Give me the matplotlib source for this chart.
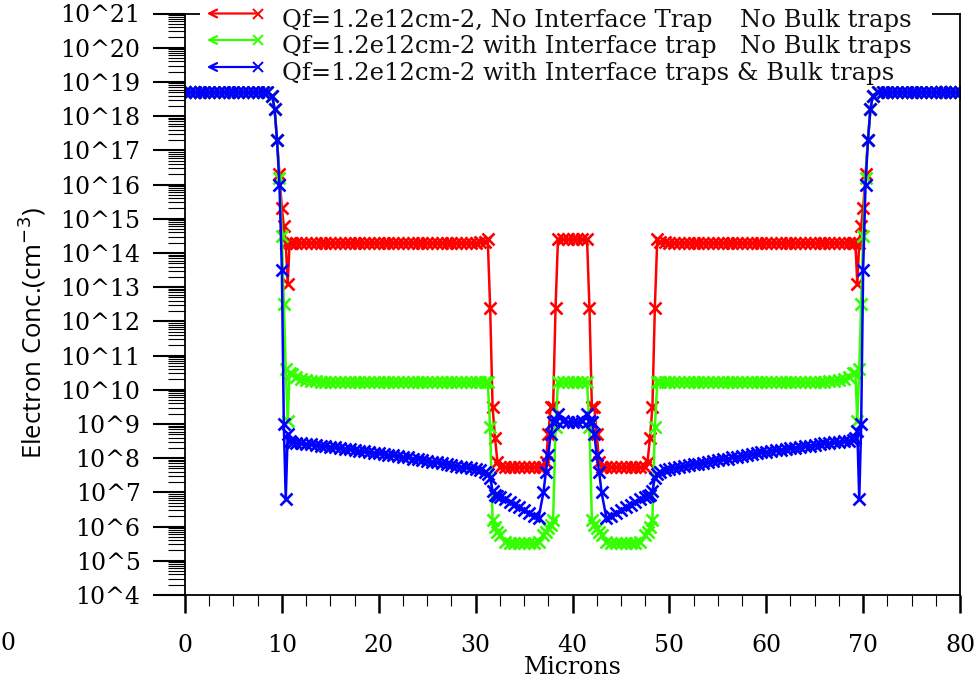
import numpy as np
import matplotlib
matplotlib.use("Agg")
import matplotlib.pyplot as plt
from matplotlib.ticker import LogLocator, MultipleLocator, FuncFormatter, NullFormatter
from matplotlib.lines import Line2D
from matplotlib.patches import FancyArrowPatch, Rectangle

# ---------------------------------------------------------------------------
# Electron concentration along the cut line (microns), log10(n / cm^-3)
# ---------------------------------------------------------------------------
x_left = [
    0, 0.5, 1, 1.5, 2, 2.5, 3, 3.5, 4, 4.5, 5, 5.5, 6, 6.5, 7, 7.5, 8, 8.5,
    9, 9.25, 9.5, 9.75, 10, 10.2, 10.4, 10.6, 10.8,
    11, 11.5, 12, 12.5, 13, 13.5, 14, 14.5, 15, 15.5,
    16, 16.5, 17, 17.5, 18, 18.5, 19, 19.5, 20, 20.5,
    21, 21.5, 22, 22.5, 23, 23.5, 24, 24.5, 25, 25.5,
    26, 26.5, 27, 27.5, 28, 28.5, 29, 29.5, 30, 30.5,
    31,
    31.25, 31.5, 31.75, 32, 32.25,
    32.5, 33, 33.5, 34, 34.5, 35, 35.5, 36, 36.5,
    37, 37.25, 37.5, 37.75, 38, 38.25, 38.5,
    39, 39.5, 40,
]
x_right = [
    40.5, 41,
    41.5, 41.75, 42, 42.25, 42.5, 42.75, 43,
    43.5, 44, 44.5, 45, 45.5, 46, 46.5, 47, 47.5,
    47.75, 48, 48.25, 48.5, 48.75,
    49, 49.5, 50, 50.5, 51, 51.5, 52, 52.5, 53, 53.5,
    54, 54.5, 55, 55.5, 56, 56.5, 57, 57.5, 58, 58.5,
    59, 59.5, 60, 60.5, 61, 61.5, 62, 62.5, 63, 63.5,
    64, 64.5, 65, 65.5, 66, 66.5, 67, 67.5, 68, 68.5,
    69,
    69.2, 69.4, 69.6, 69.8, 70, 70.25, 70.5, 70.75, 71,
    71.5, 72, 72.5, 73, 73.5, 74, 74.5, 75, 75.5, 76, 76.5, 77, 77.5, 78,
    78.5, 79, 79.5, 80,
]

# Qf = 1.2e12 cm-2, no interface trap, no bulk traps
log_n_red_left = [
    18.7, 18.7, 18.7, 18.7, 18.7, 18.7, 18.7, 18.7, 18.7, 18.7,
    18.7, 18.7, 18.7, 18.7, 18.7, 18.7, 18.7, 18.7,
    18.6, 18.2, 17.3, 16.3, 15.3, 14.8, 14.3, 13.1, 14.3,
    14.28, 14.3, 14.3, 14.3, 14.3, 14.3, 14.3, 14.3, 14.3, 14.3,
    14.3, 14.3, 14.3, 14.3, 14.3, 14.3, 14.3, 14.3, 14.3, 14.3,
    14.3, 14.3, 14.3, 14.3, 14.3, 14.3, 14.3, 14.3, 14.3, 14.3,
    14.3, 14.3, 14.3, 14.3, 14.3, 14.3, 14.3, 14.3, 14.3, 14.32,
    14.33,
    14.4, 12.4, 9.5, 8.6, 7.9,
    7.74, 7.74, 7.74, 7.74, 7.74, 7.74, 7.74, 7.74, 7.74,
    7.74, 7.9, 8.7, 9.5, 9.5, 12.4, 14.4,
    14.4, 14.4, 14.4,
]
log_n_red_right = [
    14.4, 14.4,
    14.4, 12.4, 9.5, 9.5, 8.7, 7.9, 7.74,
    7.74, 7.74, 7.74, 7.74, 7.74, 7.74, 7.74, 7.74, 7.74,
    7.9, 8.6, 9.5, 12.4, 14.4,
    14.33, 14.32, 14.3, 14.3, 14.3, 14.3, 14.3, 14.3, 14.3, 14.3,
    14.3, 14.3, 14.3, 14.3, 14.3, 14.3, 14.3, 14.3, 14.3, 14.3,
    14.3, 14.3, 14.3, 14.3, 14.3, 14.3, 14.3, 14.3, 14.3, 14.3,
    14.3, 14.3, 14.3, 14.3, 14.3, 14.3, 14.3, 14.3, 14.3, 14.3,
    14.28,
    14.3, 13.1, 14.3, 14.8, 15.3, 16.3, 17.3, 18.2, 18.6,
    18.7, 18.7, 18.7, 18.7, 18.7, 18.7, 18.7, 18.7, 18.7, 18.7,
    18.7, 18.7, 18.7, 18.7, 18.7, 18.7, 18.7, 18.7,
]

# Qf = 1.2e12 cm-2 with interface trap, no bulk traps
log_n_green_left = [
    18.7, 18.7, 18.7, 18.7, 18.7, 18.7, 18.7, 18.7, 18.7, 18.7,
    18.7, 18.7, 18.7, 18.7, 18.7, 18.7, 18.7, 18.7,
    18.6, 18.2, 17.3, 16.2, 14.5, 12.5, 10.6, 9.1, 10.5,
    10.45, 10.36, 10.31, 10.28, 10.26, 10.25, 10.24, 10.23, 10.23, 10.23,
    10.23, 10.23, 10.23, 10.23, 10.23, 10.23, 10.23, 10.23, 10.23, 10.23,
    10.23, 10.23, 10.23, 10.23, 10.23, 10.23, 10.23, 10.23, 10.23, 10.23,
    10.23, 10.23, 10.23, 10.23, 10.23, 10.23, 10.23, 10.23, 10.23, 10.23,
    10.23,
    10.22, 8.9, 6.2, 6.0, 5.85,
    5.75, 5.55, 5.52, 5.52, 5.52, 5.52, 5.52, 5.52, 5.55,
    5.75, 5.85, 5.95, 6.05, 6.2, 8.9, 10.22,
    10.23, 10.23, 10.23,
]
log_n_green_right = [
    10.23, 10.23,
    10.22, 8.9, 6.2, 6.05, 5.95, 5.85, 5.75,
    5.55, 5.52, 5.52, 5.52, 5.52, 5.52, 5.52, 5.55, 5.75,
    5.85, 6.0, 6.2, 8.9, 10.22,
    10.23, 10.23, 10.23, 10.23, 10.23, 10.23, 10.23, 10.23, 10.23, 10.23,
    10.23, 10.23, 10.23, 10.23, 10.23, 10.23, 10.23, 10.23, 10.23, 10.23,
    10.23, 10.23, 10.23, 10.23, 10.23, 10.23, 10.23, 10.23, 10.23, 10.23,
    10.23, 10.23, 10.23, 10.23, 10.24, 10.25, 10.26, 10.28, 10.31, 10.36,
    10.48,
    10.5, 9.1, 10.6, 12.5, 14.5, 16.2, 17.3, 18.2, 18.6,
    18.7, 18.7, 18.7, 18.7, 18.7, 18.7, 18.7, 18.7, 18.7, 18.7,
    18.7, 18.7, 18.7, 18.7, 18.7, 18.7, 18.7, 18.7,
]

# Qf = 1.2e12 cm-2 with interface traps and bulk traps
log_n_blue_left = [
    18.7, 18.7, 18.7, 18.7, 18.7, 18.7, 18.7, 18.7, 18.7, 18.7,
    18.7, 18.7, 18.7, 18.7, 18.7, 18.7, 18.7, 18.7,
    18.6, 18.2, 17.3, 16.0, 13.5, 9.0, 6.8, 8.7, 8.5,
    8.45, 8.44, 8.43, 8.41, 8.40, 8.38, 8.37, 8.35, 8.34, 8.32,
    8.30, 8.28, 8.26, 8.24, 8.22, 8.20, 8.18, 8.16, 8.14, 8.12,
    8.10, 8.08, 8.06, 8.04, 8.02, 7.99, 7.97, 7.95, 7.93, 7.90,
    7.88, 7.85, 7.83, 7.80, 7.78, 7.75, 7.73, 7.70, 7.67, 7.64,
    7.60,
    7.55, 7.42, 7.05, 6.92, 6.9,
    6.87, 6.8, 6.72, 6.64, 6.56, 6.48, 6.4, 6.32, 6.25,
    7.0, 7.6, 8.1, 8.7, 9.05, 9.1, 9.3,
    9.08, 9.05, 9.05,
]
log_n_blue_right = [
    9.05, 9.08,
    9.3, 9.1, 9.05, 8.7, 8.1, 7.6, 7.0,
    6.25, 6.32, 6.4, 6.48, 6.56, 6.64, 6.72, 6.8, 6.87,
    6.9, 6.92, 7.05, 7.42, 7.55,
    7.60, 7.64, 7.68, 7.71, 7.74, 7.77, 7.79, 7.82, 7.84, 7.87,
    7.89, 7.92, 7.94, 7.97, 7.99, 8.02, 8.04, 8.07, 8.09, 8.12,
    8.14, 8.17, 8.19, 8.21, 8.23, 8.25, 8.27, 8.29, 8.31, 8.33,
    8.35, 8.37, 8.39, 8.41, 8.43, 8.44, 8.46, 8.47, 8.49, 8.51,
    8.53,
    8.6, 8.8, 6.8, 9.0, 13.5, 16.0, 17.3, 18.2, 18.6,
    18.7, 18.7, 18.7, 18.7, 18.7, 18.7, 18.7, 18.7, 18.7, 18.7,
    18.7, 18.7, 18.7, 18.7, 18.7, 18.7, 18.7, 18.7,
]

labels = [
    ("Qf=1.2e12cm-2, No Interface Trap", "No Bulk traps"),
    ("Qf=1.2e12cm-2 with Interface trap", "No Bulk traps"),
    ("Qf=1.2e12cm-2 with Interface traps & Bulk traps", ""),
]
colors = ["#ff0000", "#33ff00", "#0000ff"]

# ---------------------------------------------------------------------------
W, H = 978, 682
plt.rcParams["font.family"] = "DejaVu Serif"

fig = plt.figure(figsize=(W / 100, H / 100), dpi=100)
left, right, top, bottom = 185, 960, 13.5, 595
ax = fig.add_axes([left / W, 1 - bottom / H, (right - left) / W, (bottom - top) / H])

x = np.array(x_left + x_right, dtype=float)
series = [
    log_n_red_left + log_n_red_right,
    log_n_green_left + log_n_green_right,
    log_n_blue_left + log_n_blue_right,
]
for logn, c in zip(series, colors):
    ax.plot(x, 10.0 ** np.array(logn), color=c, lw=1.8, marker="x",
            ms=8, mew=1.9, zorder=2)

ax.set_xlim(0, 80)
ax.set_yscale("log")
ax.set_ylim(1e4, 1e21)

ax.xaxis.set_major_locator(MultipleLocator(10))
ax.xaxis.set_minor_locator(MultipleLocator(2.5))
ax.yaxis.set_major_locator(LogLocator(base=10, numticks=30))
ax.yaxis.set_minor_locator(LogLocator(base=10, subs=np.arange(2, 10), numticks=30))
ax.yaxis.set_major_formatter(FuncFormatter(lambda v, p: "10^%d" % round(np.log10(v))))
ax.yaxis.set_minor_formatter(NullFormatter())

ax.tick_params(axis="y", which="major", direction="out", length=23, width=1.5,
               labelsize=17, pad=9, color="black")
ax.tick_params(axis="y", which="minor", direction="out", length=12, width=0.8)
ax.tick_params(axis="x", which="major", direction="out", length=13, width=1.8,
               labelsize=17, pad=15)
ax.tick_params(axis="x", which="minor", direction="out", length=8, width=0.8)
for sp in ax.spines.values():
    sp.set_linewidth(1.3)


def fx(px):
    return px / W


def fy(py):
    return 1 - py / H


# legend block drawn over the top frame
fig.add_artist(Rectangle((fx(200), fy(86)), fx(932) - fx(200), fy(0) - fy(86),
                         transform=fig.transFigure, facecolor="white",
                         edgecolor="none", zorder=5))
for i, ((lab, extra), c) in enumerate(zip(labels, colors)):
    yy = [13.5, 40, 67][i]
    base = [26.5, 53.5, 80][i]
    fig.add_artist(FancyArrowPatch((fx(258), fy(yy)), (fx(204), fy(yy)),
                                   transform=fig.transFigure, arrowstyle="->",
                                   mutation_scale=14, color=c, lw=1.6, zorder=6))
    fig.add_artist(Line2D([fx(258)], [fy(yy)], marker="x", ms=7, mew=1.4,
                          color=c, transform=fig.transFigure, zorder=6))
    fig.text(fx(282), fy(base), lab, fontsize=17.5, va="baseline", ha="left",
             color="#111111", zorder=7)
    if extra:
        fig.text(fx(740), fy(base), extra, fontsize=17.5, va="baseline",
                 ha="left", color="#111111", zorder=7)

fig.text(fx(32), fy(333), "Electron Conc.(cm$^{-3}$)", rotation=90,
         family="Open Sans", fontsize=18.5, ha="center", va="center")
fig.text(fx(573), fy(667), "Microns", fontsize=17, ha="center", va="center")
fig.text(fx(0), fy(643), "0", fontsize=17, ha="left", va="center")

fig.savefig("out.png", dpi=100)
